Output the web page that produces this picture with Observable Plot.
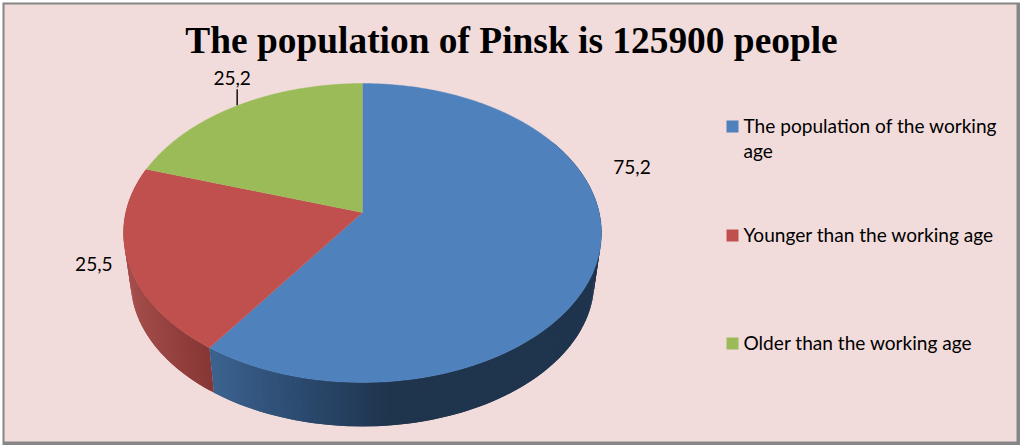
<!DOCTYPE html>
<html>
<head>
<meta charset="utf-8">
<script src="https://cdn.jsdelivr.net/npm/d3@7"></script>
<script src="https://cdn.jsdelivr.net/npm/@observablehq/plot@0.6"></script>
<style>
  html, body { margin: 0; padding: 0; background: #fff; }
  svg { display: block; }
</style>
</head>
<body>
<div id="chart"></div>
<script>
const titleText = "The population of Pinsk is 125900 people";
const categories = ["The population of the working age", "Younger than the working age", "Older than the working age"];
const legendLines = ["The population of the working\nage", "Younger than the working age", "Older than the working age"];
const values = [75.2, 25.5, 25.2];
const colors = ["#4f81bd", "#c0504d", "#9bbb59"];

// Layout: perspective pie geometry
const W = 1020, H = 445;
const CX = 362, CY = 212, SX = 236.7, SY = 146.7, K = 0.137;
const DEPTH_SCALE = 0.97, DEPTH = 49 / SY;
const labelFont = "Lato, 'Open Sans', sans-serif";

const project = (deg, bottom = false) => {
  const t = deg * Math.PI / 180;
  const w = 1 + K * Math.cos(t);
  const u = Math.sin(t) / w, v = Math.cos(t) / w;
  return bottom ? {u: u * DEPTH_SCALE, v: v * DEPTH_SCALE - DEPTH} : {u, v};
};

const toDeg = r => r * 180 / Math.PI;
const arcs = d3.pie().sort(null).value(d => d)(values)
  .map((a, i) => ({i, start: toDeg(a.startAngle), end: toDeg(a.endAngle), mid: toDeg((a.startAngle + a.endAngle) / 2)}));

// Top faces
const topFaces = arcs.flatMap(a => [
  {u: 0, v: 0, z: a.i},
  ...d3.range(a.start, a.end, 0.5).concat(a.end).map(d => ({...project(d), z: a.i}))
]);

// Side walls (blue and red are the only ones visible): each strip runs on to the wall's end
// and the next one paints over it, so no seams show between the shades
const sideStops = [
  {u: [-0.63, -0.26, 0.12], c: ["#3b618e", "#2b4a6f", "#1f344d"]},
  {u: [-0.98, -0.63], c: ["#a34d4a", "#843534"]}
];
const sideShade = sideStops.map(s => d3.scaleLinear().domain(s.u).range(s.c).clamp(true));
const sides = [arcs[1], arcs[0]].flatMap(a => {
  const stops = d3.range(Math.max(a.start, 60), a.end, 1);
  const ordered = a.i === 0 ? stops.slice().reverse() : stops;
  return ordered.flatMap((d0, j) => {
    const d1 = Math.min(d0 + 1, a.end);
    const far = a.i === 0 ? Math.max(d0 - 1, a.start) : Math.min(d1 + 1, a.end);
    const near = a.i === 0 ? d1 : d0;
    const fill = sideShade[a.i](project((d0 + d1) / 2).u);
    const z = `${a.i}-${j}`;
    return [project(near), project(far), project(far, true), project(near, true)].map(p => ({...p, z, fill}));
  });
});

const rim = arcs.map(a => project(a.mid));
const label = i => String(values[i]).replace(".", ",");
const textStyle = {fill: "#000", fontFamily: labelFont, fontSize: 19.1, stroke: "none"};

const legendMarks = legendLines.flatMap((line, i) => {
  const top = [126, 235, 343][i];
  return [
    Plot.dot([i], {frameAnchor: "top-left", dx: 732, dy: top, symbol: "square", r: 6.77, fill: colors[i], stroke: "none"}),
    Plot.text([line], {frameAnchor: "top-left", dx: 743, dy: top - 11, text: d => d, textAnchor: "start", lineAnchor: "top", lineHeight: 1.3, ...textStyle})
  ];
});

const chart = Plot.plot({
  width: W, height: H,
  margin: 0,
  x: {domain: [-CX / SX, (W - CX) / SX], range: [0, W], axis: null},
  y: {domain: [CY / SY, (CY - H) / SY], range: [0, H], axis: null},
  marks: [
    Plot.frame({fill: "#868686", stroke: "none", insetLeft: 2, insetTop: 2}),
    Plot.frame({fill: "#f2dcdb", stroke: "none", insetLeft: 4, insetTop: 4, insetRight: 4, insetBottom: 4}),
    Plot.line(sides, {x: "u", y: "v", z: "z", fill: "fill", stroke: "none"}),
    Plot.line(topFaces, {x: "u", y: "v", z: "z", fill: d => colors[d.z], stroke: d => colors[d.z], strokeWidth: 0.4}),
    Plot.ruleX([rim[2]], {x: "u", y1: "v", y2: d => d.v + 16 / SY, stroke: "#000", strokeWidth: 1.4}),
    Plot.text([rim[0]], {x: "u", y: "v", dx: 34, dy: -91, text: () => label(0), ...textStyle}),
    Plot.text([rim[1]], {x: "u", y: "v", dx: -34, dy: 4, text: () => label(1), ...textStyle}),
    Plot.text([rim[2]], {x: "u", y: "v", dx: -5, dy: -27, text: () => label(2), ...textStyle}),
    Plot.text([titleText], {frameAnchor: "top", dx: 1, dy: 26, lineAnchor: "top", text: d => d, fill: "#000", stroke: "none",
      fontFamily: "'Liberation Serif', serif", fontWeight: "bold", fontSize: 37.4}),
    ...legendMarks
  ]
});
document.getElementById("chart").append(chart);
</script>
</body>
</html>
